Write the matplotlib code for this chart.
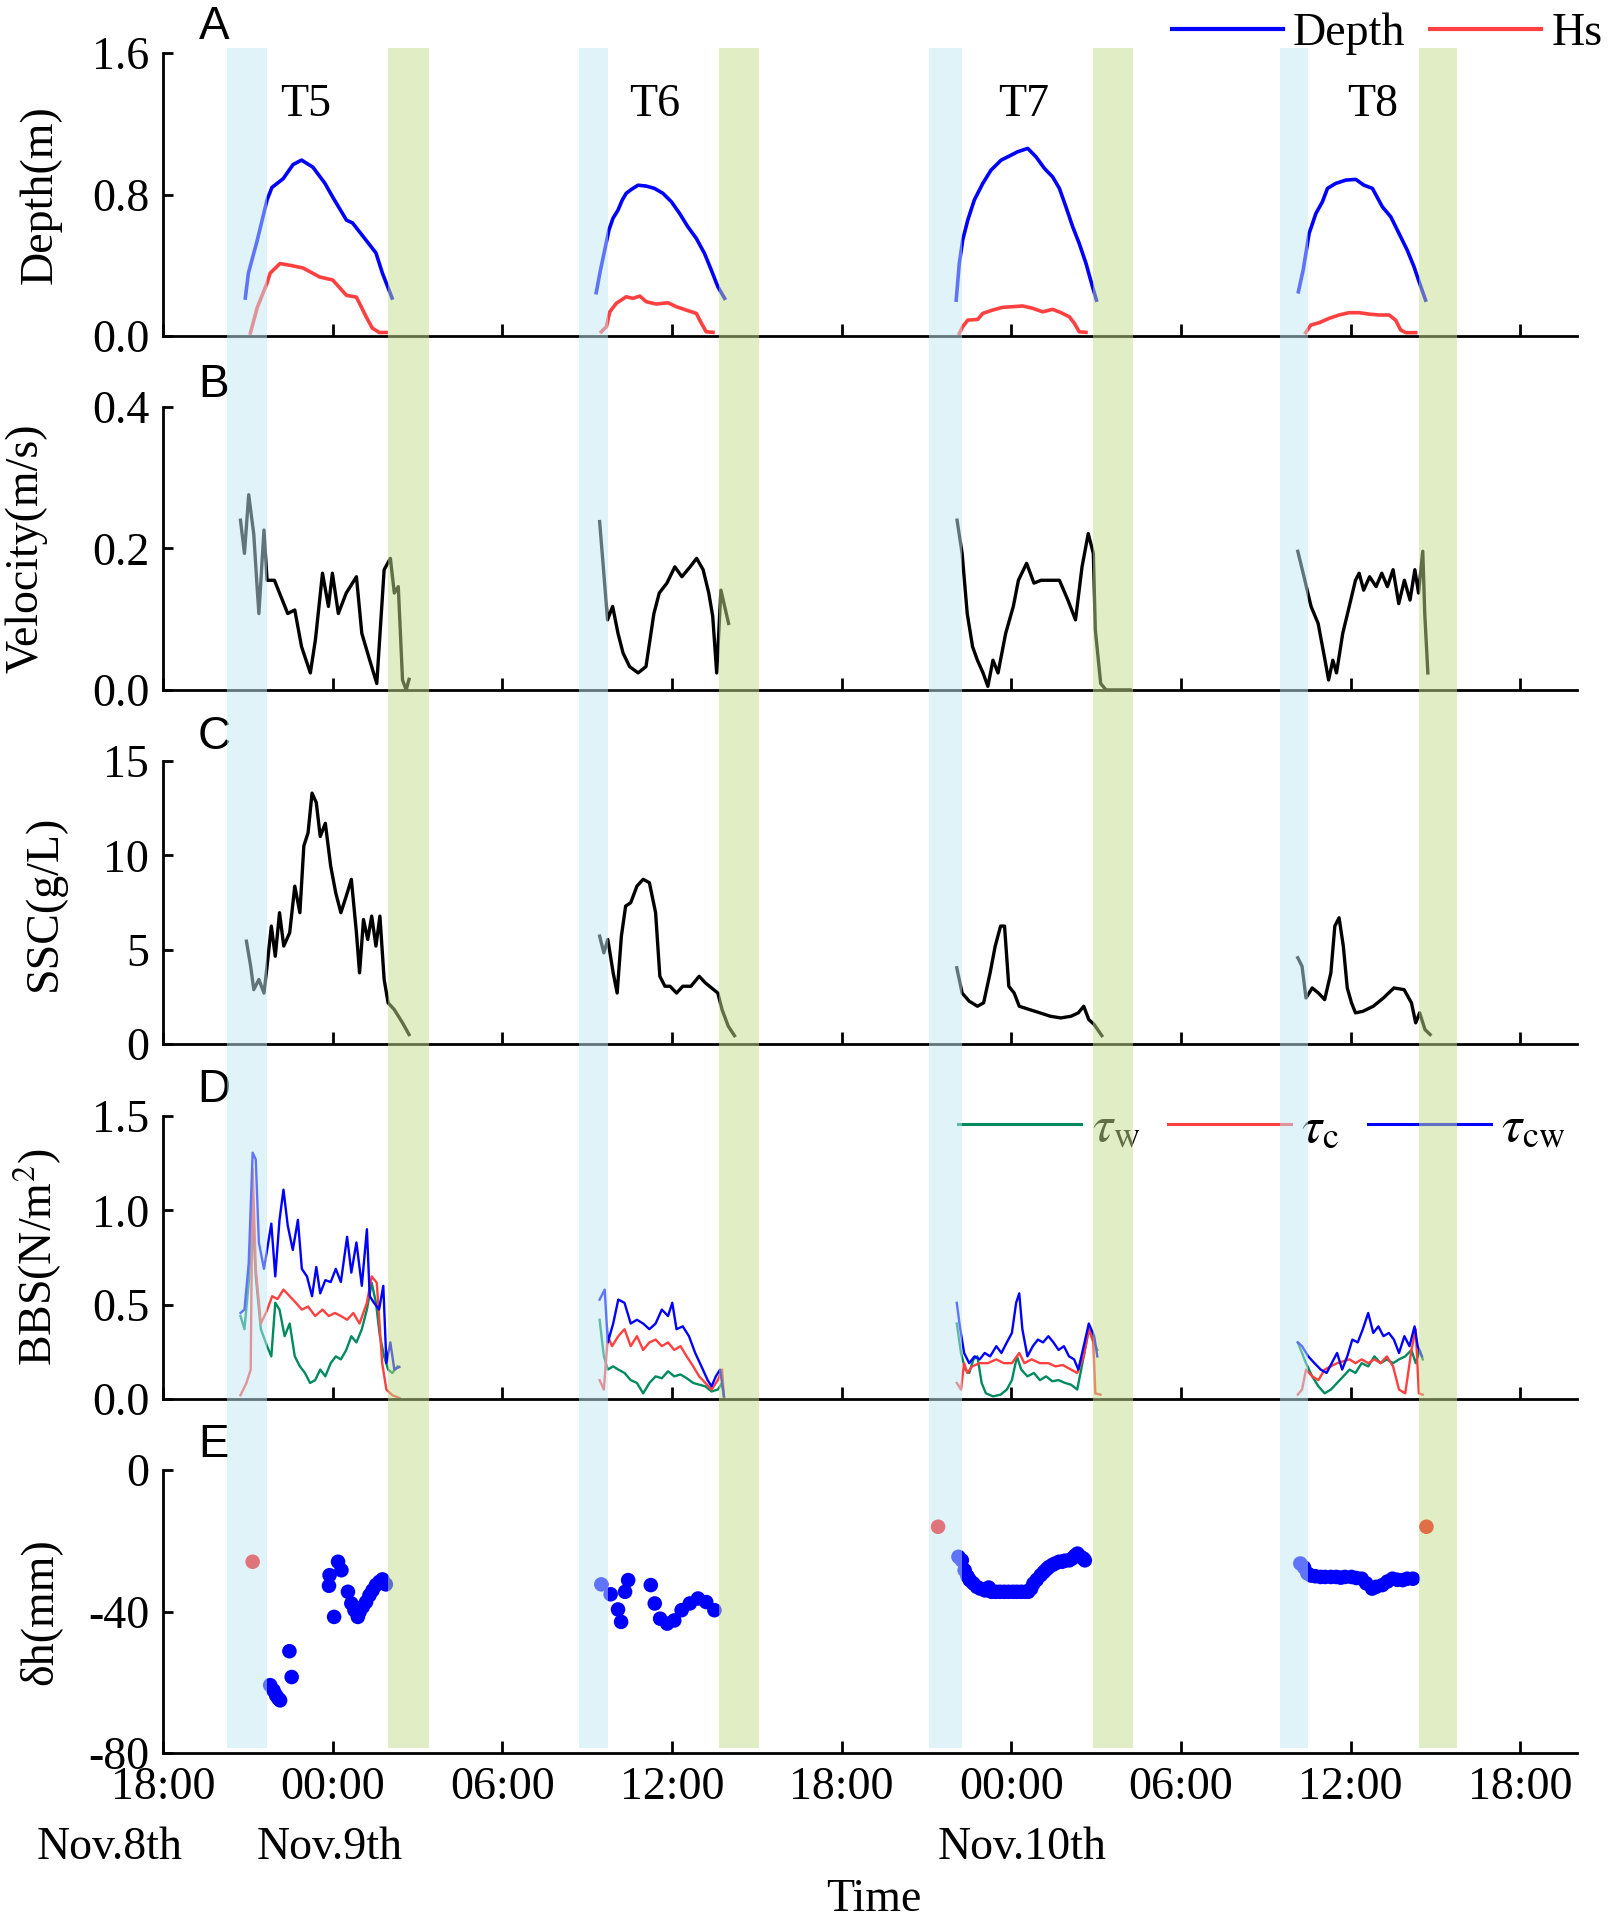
import numpy as np
import matplotlib
matplotlib.use("Agg")
import matplotlib.pyplot as plt
from matplotlib.patches import Rectangle
from matplotlib.transforms import blended_transform_factory

plt.rcParams['font.family'] = ['Liberation Serif', 'DejaVu Serif']
plt.rcParams['mathtext.fontset'] = 'stix'
plt.rcParams['font.size'] = 33

# time axis: hours since 18:00 Nov.8th
tick_hours = [0, 6, 12, 18, 24, 30, 36, 42, 48]
tick_labels = ['18:00', '00:00', '06:00', '12:00', '18:00', '00:00', '06:00', '12:00', '18:00']
date_labels = ['Nov.8th', 'Nov.9th', 'Nov.10th']
tide_names = ['T5', 'T6', 'T7', 'T8']
tide_label_hours = [5.04, 17.4, 30.45, 42.77]

# flood (blue) and ebb (green) windows, hours
flood_spans = [(2.25, 3.68), (14.72, 15.73), (27.1, 28.25), (39.5, 40.5)]
ebb_spans = [(7.96, 9.40), (19.65, 21.07), (32.9, 34.3), (44.4, 45.75)]

# A: water depth (m) and Hs (m)
depth_t5 = [(2.91, 0.215), (3.02, 0.356), (3.33, 0.54), (3.68, 0.77), (3.85, 0.84), (4.25, 0.89),
            (4.6, 0.97), (4.9, 0.995), (5.3, 0.955), (5.72, 0.865), (6.0, 0.786), (6.49, 0.655),
            (6.7, 0.64), (7.19, 0.54), (7.53, 0.47), (7.76, 0.355), (8.1, 0.215)]
depth_t6 = [(15.32, 0.245), (15.47, 0.373), (15.62, 0.486), (15.77, 0.60), (15.91, 0.665), (16.09, 0.712),
            (16.24, 0.769), (16.38, 0.807), (16.56, 0.829), (16.8, 0.853), (17.09, 0.848), (17.38, 0.835),
            (17.68, 0.807), (17.98, 0.759), (18.27, 0.693), (18.56, 0.618), (18.86, 0.552), (19.15, 0.467),
            (19.39, 0.373), (19.62, 0.279), (19.86, 0.213)]
depth_t7 = [(28.05, 0.203), (28.16, 0.411), (28.28, 0.543), (28.46, 0.656), (28.69, 0.769), (28.99, 0.863),
            (29.28, 0.938), (29.64, 0.995), (29.93, 1.018), (30.22, 1.042), (30.58, 1.061), (30.87, 1.014),
            (31.17, 0.948), (31.46, 0.90), (31.7, 0.835), (31.93, 0.731), (32.17, 0.618), (32.4, 0.524),
            (32.64, 0.411), (32.87, 0.279), (33.01, 0.203)]
depth_t8 = [(40.15, 0.25), (40.32, 0.373), (40.53, 0.58), (40.77, 0.693), (41.0, 0.759), (41.18, 0.835),
            (41.47, 0.863), (41.83, 0.882), (42.18, 0.886), (42.47, 0.853), (42.77, 0.835), (43.12, 0.731),
            (43.42, 0.674), (43.71, 0.58), (44.0, 0.486), (44.24, 0.392), (44.42, 0.307), (44.65, 0.203)]
hs_t5 = [(3.09, 0.017), (3.33, 0.16), (3.68, 0.30), (3.79, 0.356), (4.14, 0.41), (4.49, 0.40),
         (4.95, 0.385), (5.54, 0.334), (6.0, 0.317), (6.49, 0.23), (6.84, 0.22), (7.19, 0.107),
         (7.4, 0.045), (7.65, 0.02), (7.89, 0.02)]
hs_t6 = [(15.5, 0.024), (15.68, 0.053), (15.8, 0.137), (16.03, 0.185), (16.38, 0.222), (16.62, 0.213),
         (16.86, 0.226), (17.09, 0.194), (17.44, 0.181), (17.86, 0.188), (18.15, 0.166), (18.5, 0.147),
         (18.86, 0.128), (19.04, 0.072), (19.21, 0.024), (19.45, 0.021)]
hs_t7 = [(28.16, 0.015), (28.28, 0.053), (28.46, 0.09), (28.81, 0.094), (28.99, 0.128), (29.34, 0.147),
         (29.69, 0.162), (30.05, 0.166), (30.4, 0.17), (30.75, 0.157), (31.11, 0.137), (31.46, 0.151),
         (31.76, 0.132), (32.05, 0.109), (32.23, 0.072), (32.4, 0.024), (32.64, 0.021)]
hs_t8 = [(40.41, 0.019), (40.59, 0.062), (40.88, 0.075), (41.24, 0.1), (41.59, 0.119), (41.94, 0.132),
         (42.3, 0.132), (42.65, 0.124), (43.0, 0.119), (43.36, 0.119), (43.59, 0.09), (43.77, 0.034),
         (43.95, 0.019), (44.3, 0.019)]

# B: velocity (m/s)
vel_t5 = [(2.74, 0.24), (2.88, 0.193), (3.03, 0.276), (3.21, 0.22), (3.32, 0.15), (3.39, 0.108),
          (3.57, 0.226), (3.68, 0.155), (3.94, 0.155), (4.12, 0.137), (4.41, 0.108), (4.66, 0.113),
          (4.9, 0.061), (5.21, 0.024), (5.39, 0.071), (5.64, 0.165), (5.85, 0.118), (5.99, 0.165),
          (6.2, 0.108), (6.48, 0.137), (6.84, 0.16), (7.03, 0.08), (7.31, 0.042), (7.56, 0.009),
          (7.82, 0.17), (8.04, 0.186), (8.18, 0.137), (8.32, 0.146), (8.47, 0.014), (8.6, 0.0),
          (8.7, 0.015)]
vel_t6 = [(15.44, 0.238), (15.55, 0.184), (15.72, 0.099), (15.9, 0.118), (16.09, 0.08), (16.27, 0.052),
          (16.5, 0.033), (16.8, 0.024), (17.08, 0.033), (17.36, 0.108), (17.55, 0.137), (17.82, 0.151),
          (18.1, 0.174), (18.35, 0.16), (18.64, 0.174), (18.87, 0.186), (19.1, 0.17), (19.3, 0.137),
          (19.44, 0.104), (19.58, 0.024), (19.73, 0.141), (20.0, 0.094)]
vel_t7 = [(28.08, 0.24), (28.26, 0.193), (28.44, 0.108), (28.63, 0.061), (28.8, 0.042), (29.0, 0.024),
          (29.17, 0.005), (29.35, 0.042), (29.53, 0.024), (29.8, 0.08), (30.07, 0.118), (30.25, 0.155),
          (30.54, 0.179), (30.8, 0.151), (31.05, 0.155), (31.35, 0.155), (31.7, 0.155), (32.0, 0.127),
          (32.27, 0.099), (32.5, 0.174), (32.72, 0.221), (32.9, 0.193), (32.97, 0.085), (33.16, 0.009),
          (33.35, 0.0), (34.2, 0.0)]
vel_t8 = [(40.13, 0.196), (40.35, 0.16), (40.6, 0.118), (40.85, 0.094), (41.07, 0.047), (41.22, 0.014),
          (41.37, 0.042), (41.5, 0.024), (41.72, 0.08), (41.95, 0.118), (42.17, 0.155), (42.3, 0.165),
          (42.46, 0.141), (42.67, 0.16), (42.9, 0.146), (43.1, 0.165), (43.3, 0.146), (43.5, 0.17),
          (43.7, 0.122), (43.9, 0.155), (44.1, 0.127), (44.27, 0.17), (44.4, 0.137), (44.55, 0.196),
          (44.62, 0.108), (44.73, 0.024)]

# C: suspended sediment concentration (g/L)
ssc_t5 = [(2.95, 5.45), (3.1, 4.12), (3.21, 2.88), (3.39, 3.42), (3.57, 2.7), (3.68, 4.12), (3.83, 6.25),
          (3.97, 4.65), (4.12, 6.96), (4.27, 5.19), (4.48, 5.9), (4.66, 8.37), (4.84, 6.96), (4.98, 10.5),
          (5.13, 11.2), (5.27, 13.3), (5.42, 12.8), (5.56, 11.0), (5.74, 11.7), (5.93, 9.43), (6.11, 8.0),
          (6.29, 6.96), (6.48, 7.84), (6.66, 8.73), (6.84, 5.9), (6.95, 3.77), (7.09, 6.6), (7.24, 5.54),
          (7.38, 6.78), (7.53, 5.19), (7.67, 6.78), (7.82, 3.42), (7.96, 2.18), (8.18, 1.82), (8.47, 1.12),
          (8.7, 0.5)]
ssc_t6 = [(15.44, 5.72), (15.59, 4.83), (15.73, 5.54), (15.92, 3.77), (16.06, 2.7), (16.21, 5.72),
          (16.36, 7.31), (16.54, 7.49), (16.76, 8.37), (16.98, 8.73), (17.2, 8.55), (17.42, 6.96),
          (17.57, 3.59), (17.75, 3.06), (17.93, 3.06), (18.16, 2.7), (18.38, 3.06), (18.67, 3.06),
          (18.96, 3.59), (19.18, 3.24), (19.4, 2.97), (19.62, 2.7), (19.77, 1.82), (19.99, 0.94),
          (20.21, 0.44)]
ssc_t7 = [(28.07, 4.04), (28.26, 2.7), (28.51, 2.27), (28.8, 2.0), (29.02, 2.18), (29.25, 3.77),
          (29.43, 5.19), (29.62, 6.25), (29.76, 6.25), (29.91, 3.06), (30.1, 2.7), (30.28, 2.0),
          (30.65, 1.82), (31.01, 1.65), (31.38, 1.47), (31.75, 1.38), (32.11, 1.47), (32.37, 1.65),
          (32.56, 2.0), (32.74, 1.29), (32.93, 1.03), (33.2, 0.44)]
ssc_t8 = [(40.13, 4.57), (40.28, 4.12), (40.42, 2.44), (40.64, 2.97), (40.86, 2.7), (41.08, 2.35),
          (41.3, 3.77), (41.44, 6.25), (41.59, 6.69), (41.74, 5.19), (41.88, 2.97), (42.03, 2.18),
          (42.17, 1.65), (42.43, 1.73), (42.8, 2.0), (43.16, 2.44), (43.53, 2.97), (43.89, 2.88),
          (44.15, 2.18), (44.3, 1.12), (44.44, 1.65), (44.63, 0.76), (44.81, 0.5)]

# D: bed shear stress (N/m2): wave, current, combined
tw_t5 = [(2.74, 0.44), (2.88, 0.37), (3.03, 0.616), (3.17, 0.97), (3.28, 0.65), (3.46, 0.37), (3.68, 0.28),
         (3.83, 0.226), (3.97, 0.51), (4.12, 0.474), (4.3, 0.333), (4.48, 0.40), (4.66, 0.226),
         (4.84, 0.173), (5.02, 0.138), (5.2, 0.085), (5.38, 0.10), (5.56, 0.156), (5.74, 0.12),
         (5.93, 0.19), (6.11, 0.226), (6.29, 0.21), (6.48, 0.26), (6.66, 0.333), (6.84, 0.30),
         (7.03, 0.37), (7.21, 0.474), (7.38, 0.616), (7.53, 0.51), (7.67, 0.333), (7.82, 0.226),
         (7.96, 0.156), (8.11, 0.138), (8.29, 0.173)]
tc_t5 = [(2.74, 0.02), (2.95, 0.085), (3.1, 0.156), (3.17, 1.22), (3.28, 0.69), (3.46, 0.40), (3.68, 0.47),
         (3.86, 0.545), (4.05, 0.53), (4.26, 0.58), (4.48, 0.545), (4.7, 0.51), (4.91, 0.474), (5.13, 0.49),
         (5.38, 0.44), (5.64, 0.474), (5.86, 0.44), (6.08, 0.456), (6.29, 0.44), (6.51, 0.42),
         (6.73, 0.456), (6.95, 0.40), (7.21, 0.51), (7.38, 0.65), (7.56, 0.616), (7.75, 0.19),
         (7.9, 0.05), (8.11, 0.02), (8.36, 0.005)]
tcw_t5 = [(2.74, 0.456), (2.88, 0.474), (3.03, 0.72), (3.17, 1.306), (3.28, 1.27), (3.39, 0.83),
          (3.57, 0.69), (3.68, 0.79), (3.83, 0.93), (3.97, 0.65), (4.12, 0.95), (4.26, 1.11), (4.41, 0.92),
          (4.59, 0.79), (4.77, 0.95), (4.91, 0.69), (5.09, 0.65), (5.27, 0.545), (5.42, 0.70), (5.56, 0.56),
          (5.74, 0.63), (5.93, 0.62), (6.11, 0.69), (6.29, 0.62), (6.51, 0.86), (6.66, 0.67), (6.84, 0.83),
          (7.03, 0.60), (7.21, 0.90), (7.31, 0.545), (7.46, 0.51), (7.64, 0.474), (7.79, 0.60),
          (7.9, 0.19), (8.04, 0.30), (8.18, 0.156), (8.36, 0.17)]
tw_t6 = [(15.44, 0.42), (15.59, 0.226), (15.73, 0.156), (15.92, 0.173), (16.1, 0.156), (16.32, 0.138),
         (16.54, 0.10), (16.76, 0.085), (16.98, 0.03), (17.2, 0.085), (17.42, 0.12), (17.64, 0.11),
         (17.86, 0.147), (18.08, 0.12), (18.3, 0.13), (18.52, 0.11), (18.75, 0.085), (18.96, 0.076),
         (19.18, 0.067), (19.4, 0.04), (19.62, 0.05), (19.77, 0.085), (19.84, 0.005)]
tc_t6 = [(15.44, 0.10), (15.59, 0.05), (15.73, 0.333), (15.88, 0.28), (16.1, 0.333), (16.32, 0.37),
         (16.54, 0.28), (16.76, 0.333), (16.98, 0.26), (17.2, 0.30), (17.42, 0.315), (17.64, 0.28),
         (17.86, 0.30), (18.08, 0.26), (18.3, 0.28), (18.52, 0.226), (18.75, 0.173), (18.96, 0.12),
         (19.18, 0.085), (19.4, 0.05), (19.62, 0.10), (19.77, 0.156), (19.84, 0.005)]
tcw_t6 = [(15.44, 0.527), (15.62, 0.58), (15.73, 0.30), (15.92, 0.40), (16.1, 0.527), (16.32, 0.51),
          (16.54, 0.40), (16.76, 0.42), (16.98, 0.40), (17.2, 0.37), (17.42, 0.40), (17.64, 0.474),
          (17.86, 0.44), (18.01, 0.51), (18.16, 0.37), (18.38, 0.385), (18.6, 0.333), (18.82, 0.244),
          (19.04, 0.173), (19.26, 0.10), (19.4, 0.067), (19.55, 0.12), (19.7, 0.156), (19.84, 0.014)]
tw_t7 = [(28.07, 0.40), (28.22, 0.244), (28.37, 0.156), (28.51, 0.138), (28.66, 0.21), (28.8, 0.226),
         (28.95, 0.085), (29.1, 0.03), (29.35, 0.014), (29.62, 0.023), (29.84, 0.05), (30.02, 0.10),
         (30.2, 0.226), (30.35, 0.156), (30.57, 0.12), (30.8, 0.138), (31.01, 0.10), (31.23, 0.12),
         (31.45, 0.094), (31.67, 0.10), (31.9, 0.085), (32.11, 0.076), (32.33, 0.05), (32.56, 0.226),
         (32.74, 0.37), (32.93, 0.30), (33.04, 0.26)]
tc_t7 = [(28.07, 0.085), (28.22, 0.05), (28.33, 0.19), (28.44, 0.138), (28.62, 0.173), (28.88, 0.19),
         (29.17, 0.19), (29.47, 0.21), (29.73, 0.19), (30.02, 0.19), (30.28, 0.244), (30.46, 0.19),
         (30.72, 0.21), (31.01, 0.19), (31.31, 0.19), (31.56, 0.173), (31.82, 0.18), (32.11, 0.156),
         (32.33, 0.138), (32.56, 0.226), (32.74, 0.37), (32.9, 0.30), (32.97, 0.03), (33.15, 0.023)]
tcw_t7 = [(28.07, 0.51), (28.18, 0.385), (28.33, 0.244), (28.51, 0.19), (28.7, 0.226), (28.88, 0.21),
          (29.06, 0.244), (29.25, 0.226), (29.47, 0.28), (29.65, 0.244), (29.84, 0.30), (30.02, 0.35),
          (30.17, 0.51), (30.28, 0.56), (30.39, 0.37), (30.57, 0.226), (30.76, 0.28), (30.94, 0.315),
          (31.12, 0.30), (31.31, 0.333), (31.49, 0.30), (31.67, 0.26), (31.86, 0.28), (32.04, 0.226),
          (32.22, 0.21), (32.37, 0.156), (32.56, 0.28), (32.74, 0.40), (32.93, 0.333), (33.04, 0.226)]
tw_t8 = [(40.13, 0.30), (40.28, 0.244), (40.42, 0.19), (40.64, 0.12), (40.86, 0.067), (41.08, 0.03),
         (41.3, 0.05), (41.52, 0.085), (41.74, 0.12), (41.96, 0.156), (42.17, 0.138), (42.39, 0.19),
         (42.62, 0.173), (42.84, 0.226), (43.06, 0.19), (43.28, 0.21), (43.5, 0.19), (43.71, 0.21),
         (43.93, 0.226), (44.15, 0.26), (44.3, 0.19), (44.44, 0.26), (44.55, 0.21)]
tc_t8 = [(40.13, 0.023), (40.28, 0.05), (40.42, 0.156), (40.64, 0.12), (40.86, 0.10), (41.08, 0.156),
         (41.3, 0.173), (41.52, 0.19), (41.74, 0.20), (41.96, 0.21), (42.17, 0.19), (42.39, 0.21),
         (42.62, 0.19), (42.84, 0.21), (43.06, 0.19), (43.28, 0.226), (43.5, 0.173), (43.71, 0.05),
         (43.93, 0.03), (44.15, 0.26), (44.3, 0.37), (44.41, 0.03), (44.55, 0.023)]
tcw_t8 = [(40.13, 0.30), (40.28, 0.28), (40.5, 0.226), (40.72, 0.19), (40.94, 0.156), (41.15, 0.138),
          (41.33, 0.19), (41.52, 0.244), (41.7, 0.156), (41.88, 0.226), (42.06, 0.315), (42.25, 0.30),
          (42.43, 0.37), (42.62, 0.456), (42.8, 0.35), (42.98, 0.385), (43.16, 0.333), (43.35, 0.35),
          (43.53, 0.315), (43.71, 0.244), (43.9, 0.333), (44.08, 0.28), (44.26, 0.385), (44.37, 0.28),
          (44.52, 0.226)]

# E: bed level change (mm)
dh_t5 = [(3.79, -60.8), (3.91, -62.3), (4.0, -63.7), (4.08, -64.6), (4.14, -65.1), (4.47, -51.2),
         (4.55, -58.5), (5.87, -32.7), (5.89, -29.7), (6.05, -41.5), (6.19, -25.9), (6.31, -28.3),
         (6.54, -34.4), (6.66, -37.7), (6.77, -39.6), (6.89, -41.5), (6.95, -40.1), (7.06, -38.7),
         (7.18, -37.3), (7.3, -35.4), (7.41, -34.0), (7.53, -32.5), (7.65, -31.6), (7.76, -30.9),
         (7.88, -32.3)]
dh_t6 = [(15.5, -32.3), (15.83, -35.1), (16.09, -39.4), (16.2, -42.9), (16.34, -34.4), (16.45, -31.1),
         (17.25, -32.5), (17.39, -37.7), (17.58, -42.0), (17.83, -43.4), (18.08, -42.5), (18.34, -39.6),
         (18.63, -37.7), (18.92, -36.3), (19.21, -37.3), (19.5, -39.6)]
dh_t7 = [(28.13, -24.5), (28.25, -25.5), (28.35, -28.3), (28.45, -30.0), (28.53, -31.1), (28.65, -32.0),
         (28.78, -33.0), (28.9, -33.5), (29.07, -34.0), (29.2, -33.2), (29.3, -34.4), (29.45, -34.4),
         (29.6, -34.4), (29.75, -34.4), (29.9, -34.4), (30.06, -34.4), (30.2, -34.4), (30.35, -34.4),
         (30.5, -34.4), (30.6, -34.4), (30.7, -33.5), (30.78, -32.1), (30.9, -31.0), (31.04, -29.7),
         (31.15, -28.8), (31.25, -28.0), (31.33, -27.4), (31.45, -26.8), (31.55, -26.4), (31.69, -25.9),
         (31.8, -25.9), (31.9, -25.6), (32.05, -25.5), (32.15, -25.0), (32.25, -24.2), (32.34, -23.6),
         (32.45, -24.5), (32.55, -25.0), (32.6, -25.5)]
dh_t8 = [(40.22, -26.4), (40.35, -27.5), (40.47, -29.2), (40.6, -29.8), (40.75, -30.0), (40.94, -30.2),
         (41.1, -30.2), (41.3, -30.2), (41.49, -30.2), (41.65, -30.4), (41.8, -30.2), (42.03, -30.2),
         (42.2, -30.5), (42.39, -30.7), (42.55, -32.0), (42.76, -33.5), (42.9, -33.0), (43.12, -32.5),
         (43.3, -31.5), (43.48, -30.7), (43.65, -31.0), (43.84, -31.1), (44.0, -30.7), (44.2, -30.7)]
dh_outliers = [(3.17, -25.9), (27.41, -16.0), (44.68, -16.0)]

BLUE = '#0000ff'
RED = '#ff4040'
GREEN = '#008a5e'


def xy(pairs):
    arr = np.array(pairs)
    return arr[:, 0], arr[:, 1]


def style_axis(ax, ylim, yticks, ylabels, show_x=False):
    ax.set_xlim(0, 50)
    ax.set_ylim(*ylim)
    ax.set_yticks(yticks)
    ax.set_yticklabels(ylabels)
    ax.set_xticks(tick_hours)
    if show_x:
        ax.set_xticklabels(tick_labels)
    else:
        ax.set_xticklabels([])
    for s in ['top', 'right']:
        ax.spines[s].set_visible(False)
    for s in ['left', 'bottom']:
        ax.spines[s].set_linewidth(2.0)
    ax.tick_params(axis='y', direction='in', length=7, width=2, pad=10, labelsize=33)
    ax.tick_params(axis='x', direction='in', length=8.5, width=2, pad=10, labelsize=33)


fig = plt.figure(figsize=(16.14, 19.18), dpi=100)
left, width, height = 0.101, 0.876, 0.1475
bottoms = [0.8248, 0.6403, 0.4557, 0.2706, 0.0860]
axes = [fig.add_axes([left, b, width, height]) for b in bottoms]
axA, axB, axC, axD, axE = axes

# A
for d, h in [(depth_t5, hs_t5), (depth_t6, hs_t6), (depth_t7, hs_t7), (depth_t8, hs_t8)]:
    axA.plot(*xy(d), color=BLUE, lw=2.6)
    axA.plot(*xy(h), color=RED, lw=2.6)
style_axis(axA, (0, 1.6), [0, 0.8, 1.6], ['0.0', '0.8', '1.6'])
for name, hx in zip(tide_names, tide_label_hours):
    axA.text(hx, 1.31, name, ha='center', va='center', fontsize=33)
axA.legend([plt.Line2D([], [], color=BLUE, lw=3), plt.Line2D([], [], color=RED, lw=3)],
           ['Depth', 'Hs'], loc='center left', bbox_to_anchor=(0.726, 0.9822),
           bbox_transform=fig.transFigure, ncol=2, frameon=False, borderpad=0,
           borderaxespad=0, handlelength=2.42, handletextpad=0.22, columnspacing=0.55,
           fontsize=33)

# B
for v in [vel_t5, vel_t6, vel_t7, vel_t8]:
    axB.plot(*xy(v), color='black', lw=2.4)
style_axis(axB, (0, 0.4), [0, 0.2, 0.4], ['0.0', '0.2', '0.4'])

# C
for s in [ssc_t5, ssc_t6, ssc_t7, ssc_t8]:
    axC.plot(*xy(s), color='black', lw=2.4)
style_axis(axC, (0, 15), [0, 5, 10, 15], ['0', '5', '10', '15'])

# D
for w, c, cw in [(tw_t5, tc_t5, tcw_t5), (tw_t6, tc_t6, tcw_t6),
                 (tw_t7, tc_t7, tcw_t7), (tw_t8, tc_t8, tcw_t8)]:
    axD.plot(*xy(w), color=GREEN, lw=1.7)
    axD.plot(*xy(c), color=RED, lw=1.7)
    axD.plot(*xy(cw), color=BLUE, lw=1.7)
style_axis(axD, (0, 1.5), [0, 0.5, 1.0, 1.5], ['0.0', '0.5', '1.0', '1.5'])
axD.legend([plt.Line2D([], [], color=GREEN, lw=2.2), plt.Line2D([], [], color=RED, lw=2.2),
            plt.Line2D([], [], color=BLUE, lw=2.2)],
           [r'$\tau_{\mathrm{w}}$', r'$\tau_{\mathrm{c}}$', r'$\tau_{\mathrm{cw}}$'],
           loc='center left', bbox_to_anchor=(0.5935, 0.4113), bbox_transform=fig.transFigure,
           ncol=3, frameon=False, borderpad=0, borderaxespad=0, handlelength=2.4,
           handletextpad=0.2, columnspacing=0.55, fontsize=37)

# E
for pts in [dh_t5, dh_t6, dh_t7, dh_t8]:
    axE.scatter(*xy(pts), s=110, color=BLUE, edgecolors='none', zorder=3)
axE.scatter(*xy(dh_outliers), s=110, color='#ff0000', edgecolors='none', zorder=3)
style_axis(axE, (-80, 0), [-80, -40, 0], ['-80', '-40', '0'], show_x=True)

# panel letters, y labels
letter_y = [27, 385, 737, 1090, 1445]
for letter, yy in zip('ABCDE', letter_y):
    fig.text(214 / 1614, 1 - yy / 1918, letter, ha='center', va='center',
             fontsize=33, family='Liberation Sans')
ylab = ['Depth(m)', 'Velocity(m/s)', 'SSC(g/L)', r'BBS(N/m$^{2}$)', 'δh(mm)']
ylab_x = [40, 26, 45, 38, 40]
for ax, lab, xx in zip(axes, ylab, ylab_x):
    pos = ax.get_position()
    fig.text(xx / 1614, pos.y0 + pos.height / 2, lab, rotation=90, ha='center', va='center',
             fontsize=33)

# date labels and axis title
for lab, xx in zip(date_labels, [110, 330, 1022]):
    fig.text(xx / 1614, 1 - 1848 / 1918, lab, ha='center', va='center', fontsize=33)
fig.text(874 / 1614, 1 - 1900 / 1918, 'Time', ha='center', va='center', fontsize=33)

# flood / ebb windows across all panels
trans = blended_transform_factory(axE.transData, fig.transFigure)
y0, y1 = 0.0886, 0.975
for (a, b) in flood_spans:
    fig.add_artist(Rectangle((a, y0), b - a, y1 - y0, transform=trans, facecolor='#c0e8f4',
                             edgecolor='none', alpha=0.5, zorder=10))
for (a, b) in ebb_spans:
    fig.add_artist(Rectangle((a, y0), b - a, y1 - y0, transform=trans, facecolor='#c2dc8c',
                             edgecolor='none', alpha=0.5, zorder=10))

fig.savefig('out.png', dpi=100)
